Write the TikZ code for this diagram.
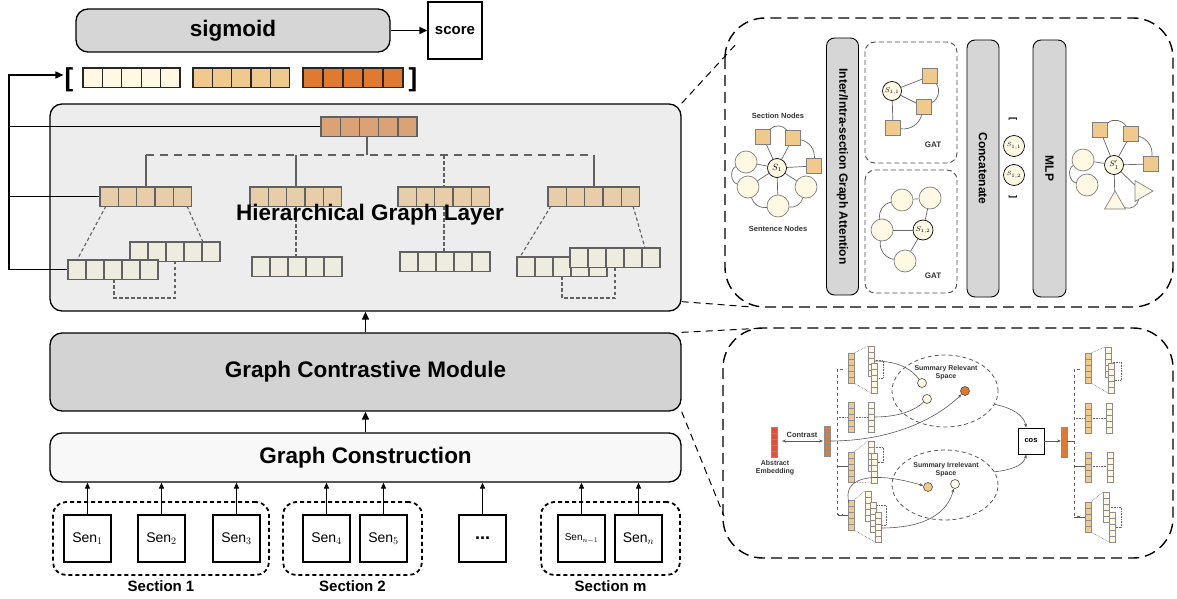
\documentclass[tikz,border=0pt]{standalone}
\usepackage{fontspec}
\setmainfont{Liberation Sans}
\usetikzlibrary{arrows.meta,calc,positioning,shapes.geometric}

\definecolor{creamc}{HTML}{FFF8E3}
\definecolor{tanc}{HTML}{F0C98D}
\definecolor{orangec}{HTML}{E07A30}
\definecolor{redc}{HTML}{DE5038}
\definecolor{topc}{HTML}{DBA275}
\definecolor{midc}{HTML}{E8CDA9}
\definecolor{lowc}{HTML}{EEEBDF}
\definecolor{boxgray}{HTML}{D6D6D6}
\definecolor{hglgray}{HTML}{EDEDED}
\definecolor{gcmgray}{HTML}{D3D3D3}
\definecolor{gcwhite}{HTML}{F8F8F8}

% a row of five cells, and a column of five cells
\def\hrow[#1](#2,#3)#4{\foreach \k in {0,...,4} \draw[#1] ({#2+\k*#4},#3) rectangle ++(#4,19.5);}
\def\vrow[#1](#2,#3){\foreach \k in {0,...,4} \draw[#1] (#2,{#3+\k*6}) rectangle ++(6,6);}

\begin{document}
\begin{tikzpicture}[x=1pt,y=-1pt,
  pill/.style={draw, rounded corners=12pt, line width=1.3pt, font=\fontsize{22.5}{24}\selectfont\bfseries},
  arr/.style={-{Triangle[length=8pt,width=7pt]}, line width=1.4pt},
  arrs/.style={-{Triangle[length=6pt,width=5pt]}, line width=1.1pt},
  cellt/.style={draw=black!85, line width=1.3pt},
  cellh/.style={draw=black!62, line width=1.4pt},
  hline/.style={draw=black!62, line width=1.4pt},
  hdash/.style={hline, dash pattern=on 8pt off 6pt},
  hdot/.style={hline, line width=1.1pt, dash pattern=on 3.5pt off 2.5pt},
  senbox/.style={draw, line width=1.4pt, minimum width=47pt, minimum height=47pt, inner sep=0pt, font=\fontsize{14}{16}\selectfont},
  secbox/.style={draw, line width=1.8pt, dash pattern=on 4pt off 3pt, rounded corners=13pt, minimum height=73pt},
  seclabel/.style={font=\fontsize{15}{16}\selectfont\bfseries},
  panlink/.style={line width=1pt, dash pattern=on 7pt off 5pt},
  panel/.style={line width=1.4pt, dash pattern=on 11pt off 6pt, rounded corners=40pt},
  vbar/.style={draw, fill=boxgray, rounded corners=8pt, line width=0.9pt, minimum width=257pt, minimum height=32pt, inner sep=0pt, font=\fontsize{12}{12}\selectfont\bfseries},
  gatbox/.style={draw=black!70, line width=0.9pt, dash pattern=on 5pt off 3pt, rounded corners=10pt},
  sent/.style={circle, draw=black!50, fill=creamc, line width=0.7pt, minimum size=22pt, inner sep=0pt},
  sect/.style={draw=black!50, fill=tanc, line width=0.7pt, minimum size=15pt, inner sep=0pt},
  snode/.style={circle, draw=black, fill=creamc, line width=0.7pt, minimum size=19pt, inner sep=0pt, font=\fontsize{8}{8}\selectfont},
  tri/.style={regular polygon, regular polygon sides=3, draw=black!50, fill=creamc, line width=0.7pt, minimum size=24pt, inner sep=0pt},
  gline/.style={draw=black!60, line width=0.7pt},
  tinytxt/.style={font=\fontsize{7}{8}\selectfont\bfseries, text=black!80, align=center},
  vcell/.style={draw=black!45, line width=0.4pt},
  dotln/.style={draw=black!60, line width=0.6pt, densely dotted},
  crv/.style={draw=black!65, line width=0.6pt},
  atip/.style={-{Stealth[length=4pt,width=3pt]}},
  dotnode/.style={circle, draw=black!70, line width=0.6pt, minimum size=9pt, inner sep=0pt},
  ell/.style={ellipse, draw=black!65, line width=0.8pt, dash pattern=on 4pt off 3pt, inner sep=0pt}
]
\useasboundingbox (0,0) rectangle (1177,599);

%%%%% OUTPUT %%%%%
\node[pill, fill=boxgray, minimum width=314pt, minimum height=43pt] (sigmoid) at (233,30.5) {sigmoid};
\node[draw, line width=1.3pt, minimum width=54pt, minimum height=57pt, font=\fontsize{15}{16}\selectfont\bfseries] (score) at (455,30.5) {score};
\draw[arr] (sigmoid) -- (score);

\node[font=\fontsize{26}{26}\selectfont\bfseries, inner sep=1pt] (lbr) at (69,80) {[};
\node[font=\fontsize{26}{26}\selectfont\bfseries, inner sep=1pt] (rbr) at (413,80) {]};
\hrow[cellt, fill=creamc](83,68){19.4}
\hrow[cellt, fill=tanc](193,68){19.3}
\hrow[cellt, fill=orangec](303,68){20}

%%%%% HIERARCHICAL GRAPH LAYER %%%%%
\node[pill, fill=hglgray, minimum width=631pt, minimum height=207pt] (hgl) at (365.5,207.5) {};

\coordinate (bus) at (9,0);
\coordinate (vtop) at (321,126.75);
\coordinate (vmid) at (100,196.75);
\coordinate (vlow) at (68,269.75);
\draw[arr] (vtop) -- (vtop -| bus) |- ($(lbr.west)+(0,-5)$);
\draw[line width=1.4pt] (vmid) -- (vmid -| bus);
\draw[line width=1.4pt] (vlow) -- (vlow -| bus) -- (vtop -| bus);

% tree
\draw[hline] (367,136) -- (367,155);
\draw[hdash] (146,155) -- (594,155);
\draw[hline] (146,155) -- (146,187);
\draw[hline] (296,155) -- (296,187);
\draw[hline] (594,155) -- (594,187);
\draw[hdot] (444,155) -- (444,187);
\draw[hdot] (444,206) -- (444,252);
\draw[hdot] (296,206) -- (296,257);
\draw[hdot] (106,206) -- (77,260);
\draw[hdot] (187,206) -- (203,242);
\draw[hdot] (551,206) -- (520,257);
\draw[hdot] (633,206) -- (645,248);
\draw[hdot] (114,279) |- (175,298) -- (175,261);
\draw[hdot] (562,276) |- (615,298) -- (615,267);

\hrow[cellh, fill=topc](321,117){19.2}
\hrow[cellh, fill=midc](100,187){18.3}
\hrow[cellh, fill=midc](250,187){18.3}
\hrow[cellh, fill=midc](398,187){18.3}
\hrow[cellh, fill=midc](548,187){18.3}
\hrow[cellh, fill=lowc](130,242){18}
\hrow[cellh, fill=lowc](68,260){18}
\hrow[cellh, fill=lowc](252,257){18}
\hrow[cellh, fill=lowc](400,252){18}
\hrow[cellh, fill=lowc](517,257){18}
\hrow[cellh, fill=lowc](570,248){18}

\node[font=\fontsize{22.5}{24}\selectfont\bfseries] (hgltext) at (370,215) {Hierarchical Graph Layer};

%%%%% MODULES %%%%%
\node[pill, fill=gcmgray, minimum width=631pt, minimum height=78pt] (gcm) at (365.5,372) {Graph Contrastive Module};
\node[pill, fill=gcwhite, minimum width=631pt, minimum height=49pt] (gc) at (365.5,457.5) {Graph Construction};
\draw[arr] (gc) -- (gcm);
\draw[arr] (gcm) -- (hgl);

%%%%% SENTENCES %%%%%
\node[secbox, minimum width=216pt] (sec1) at (161,538.5) {};
\node[secbox, minimum width=139pt] (sec2) at (352.5,538.5) {};
\node[secbox, minimum width=139pt] (secm) at (610.5,538.5) {};
\node[seclabel, below=1pt of sec1] (lab1) {Section 1};
\node[seclabel, below=1pt of sec2] (lab2) {Section 2};
\node[seclabel, below=1pt of secm] (labm) {Section m};

\node[senbox] (s1) at (87.5,538.5) {Sen$_1$};
\node[senbox] (s2) at (161.5,538.5) {Sen$_2$};
\node[senbox] (s3) at (236.5,538.5) {Sen$_3$};
\node[senbox] (s4) at (326.5,538.5) {Sen$_4$};
\node[senbox] (s5) at (383.5,538.5) {Sen$_5$};
\node[senbox, font=\fontsize{18}{18}\selectfont\bfseries] (sdots) at (482.5,538.5) {...};
\node[senbox, font=\fontsize{10}{10}\selectfont] (sn1) at (581.5,538.5) {Sen$_{n-1}$};
\node[senbox] (sn) at (638.5,538.5) {Sen$_n$};
\foreach \s in {s1,s2,s3,s4,s5,sdots,sn1,sn} \draw[arrs] (\s) -- (\s |- gc.south);

%%%%% LINKS TO PANELS %%%%%
\coordinate (pa) at (738,42);
\coordinate (pb) at (752,307);
\coordinate (pc) at (765,328);
\coordinate (pd) at (724,516);
\draw[panlink] (hgl.north east) -- (pa);
\draw[panlink] ($(hgl.south east)+(0,-10)$) -- (pb);
\draw[panlink] (gcm.north east) -- (pc);
\draw[panlink] (gcm.south east) -- (pd);

%%%%% GRAPH LAYER PANEL %%%%%
\draw[panel] (725,18) rectangle (1173,307);

\node[sent] (c1) at (746,162) {};
\node[sent] (c2) at (748,187) {};
\node[sent] (c3) at (778,206) {};
\node[sent] (c4) at (806,187) {};
\node[sect] (q1) at (763,137) {};
\node[sect] (q2) at (793,138) {};
\node[sect] (q3) at (814,166) {};
\node[snode, font=\fontsize{9}{9}\selectfont] (S1) at (777,168) {$S_1$};
\foreach \t in {c1,c2,c3,c4,q1,q2,q3} \draw[gline] (S1) -- (\t);
\draw[gline] (q1) to[bend left=50] (q2);
\draw[gline] (q2) to[bend left=40] (q3);
\draw[gline] (c1) to[bend right=70] (c2);
\draw[gline] (c2) to[bend right=40] (c3);
\draw[gline] (c3) to[bend right=40] (c4);
\node[tinytxt, font=\fontsize{7.5}{8}\selectfont\bfseries] (secnodes) at (778,116) {Section Nodes};
\node[tinytxt, font=\fontsize{7.5}{8}\selectfont\bfseries] (sennodes) at (778,229) {Sentence Nodes};

\node[vbar, rotate=-90] (inter) at (842.5,166.5) {Inter/Intra-section Graph Attention};

\draw[gatbox] (865,42) rectangle (957,163);
\draw[gatbox] (865,170) rectangle (957,293);

\node[snode, font=\fontsize{7}{7}\selectfont] (S11) at (892,91) {$S_{1,1}$};
\node[sect] (ga) at (930,76) {};
\node[sect] (gb) at (924,107) {};
\node[sect] (gc1) at (893,128) {};
\foreach \t in {ga,gb,gc1} \draw[gline] (S11) -- (\t);
\draw[gline] (ga) to[bend left=50] (gb);
\draw[gline] (gb) to[bend left=40] (gc1);
\node[tinytxt, font=\fontsize{8}{8}\selectfont\bfseries] (gat1) at (933,145) {GAT};

\node[sent] (ha) at (902,200) {};
\node[sent] (hb) at (930,198) {};
\node[sent] (hc) at (882,230) {};
\node[sent] (hd) at (905,261) {};
\node[snode, font=\fontsize{7}{7}\selectfont, minimum size=20pt] (S12) at (923,230) {$S_{1,2}$};
\draw[gline] (ha) -- (hb);
\foreach \t in {hb,hc,hd} \draw[gline] (S12) -- (\t);
\draw[gline] (ha) to[bend right=45] (hc);
\draw[gline] (hc) to[bend right=45] (hd);
\node[tinytxt, font=\fontsize{8}{8}\selectfont\bfseries] (gat2) at (933,276) {GAT};

\node[vbar, rotate=-90] (concat) at (983,168.5) {Concatenate};
\node[vbar, rotate=-90, minimum height=33pt] (mlp) at (1049.5,168.5) {MLP};

\node[font=\fontsize{9}{9}\selectfont\bfseries, rotate=-90] (cbl) at (1013,119) {[};
\node[snode, font=\fontsize{6.5}{7}\selectfont, minimum size=21pt] (cs1) at (1014,146) {$S_{1,1}$};
\node[snode, font=\fontsize{6.5}{7}\selectfont, minimum size=21pt] (cs2) at (1014,175) {$S_{1,2}$};
\node[font=\fontsize{9}{9}\selectfont\bfseries, rotate=-90] (cbr) at (1013,197) {]};

\node[sent] (rc1) at (1083,160) {};
\node[sent] (rc2) at (1087,185) {};
\node[sect] (rq1) at (1100,130) {};
\node[sect] (rq2) at (1131,134) {};
\node[sect] (rq3) at (1151,164) {};
\node[tri] (rt1) at (1115,203) {};
\node[tri, rotate=-90] (rt2) at (1141,191) {};
\node[snode, font=\fontsize{8}{8}\selectfont] (S1p) at (1114,165) {$S'_1$};
\foreach \t in {rc1,rq1,rq2,rq3,rt1,rt2} \draw[gline] (S1p) -- (\t);
\draw[gline] (rq1) to[bend left=50] (rq2);
\draw[gline] (rq2) to[bend left=40] (rq3);
\draw[gline] (rc1) to[bend right=70] (rc2);
\draw[gline] (rt1) to[bend right=50] (rt2);

%%%%% CONTRASTIVE PANEL %%%%%
\draw[panel] (723,328) rectangle (1173,558);

\node[ell, minimum width=106pt, minimum height=72pt] (relsp) at (945,391) {};
\node[ell, minimum width=106pt, minimum height=70pt] (irrsp) at (945,485) {};
\node[tinytxt] (rellab) at (946,373) {Summary Relevant\\Space};
\node[tinytxt] (irrlab) at (946,470) {Summary Irrelevant\\Space};

\vrow[vcell, fill=redc](771,427)
\node[tinytxt] (abslab) at (775,468) {Abstract\\Embedding};
\node[tinytxt, font=\fontsize{7.5}{8}\selectfont\bfseries] (conlab) at (802,435) {Contrast};
\draw[crv, {Stealth[length=4pt,width=3pt]}-{Stealth[length=4pt,width=3pt]}] (782,441) -- (823,441);
\vrow[vcell, fill=orangec](824,426)

% left groups
\draw[dotln, dashed] (843,369) -- (837,369) -- (837,514) -- (843,514);
\draw[dotln] (854,353) -- (868,346);
\draw[dotln] (854,383) -- (871,393);
\draw[dotln] (874,360) -| (883,378) -- (877,378);
\vrow[vcell, fill=tanc](848,353)
\vrow[vcell, fill=creamc](868,346)
\vrow[vcell, fill=creamc](871,363)

\draw[dotln] (837,417) -- (848,417);
\draw[dotln] (854,417) -- (868,417);
\vrow[vcell, fill=tanc](848,402)
\vrow[vcell, fill=creamc](868,402)

\draw[crv] (838,466) -- (848,466);
\draw[dotln] (854,452) -- (868,441);
\draw[dotln] (854,482) -- (871,483);
\draw[dotln] (874,447) -| (883,462) -- (877,462);
\vrow[vcell, fill=tanc](848,452)
\vrow[vcell, fill=creamc](868,441)
\vrow[vcell, fill=creamc](871,453)

\draw[crv] (838,515) -- (848,515);
\draw[dotln] (854,500) -- (865,491);
\draw[dotln] (854,530) -- (875,542);
\draw[dotln] (871,505) -| (886,525) -- (881,525);
\vrow[vcell, fill=tanc](848,500)
\vrow[vcell, fill=creamc](865,491)
\vrow[vcell, fill=creamc](870,502)
\vrow[vcell, fill=creamc](875,512)

% points in the two spaces
\node[dotnode, fill=creamc] (r1) at (922,383) {};
\node[dotnode, fill=creamc] (r2) at (927,399) {};
\node[dotnode, fill=orangec] (r3) at (965,391) {};
\node[dotnode, fill=tanc] (i1) at (928,487) {};
\node[dotnode, fill=creamc] (i2) at (955,484) {};
\draw[crv] (874,361) .. controls (900,361) and (912,370) .. (r1);
\draw[crv] (874,417) .. controls (900,417) and (915,410) .. (r2);
\draw[crv, atip] (830,441) .. controls (890,441) and (935,420) .. (r3);
\draw[crv, atip] (849,503) .. controls (842,478) and (870,470) .. (i1);
\draw[crv, atip] (881,528) .. controls (930,528) and (948,510) .. (i2);

\node[draw, line width=0.8pt, minimum size=26pt, inner sep=0pt, font=\fontsize{7.5}{8}\selectfont\bfseries] (cos) at (1031,441) {cos};
\draw[crv, atip] (relsp.-15) .. controls (1012,408) and (1024,415) .. (cos.110);
\draw[crv, atip] (irrsp.15) .. controls (1012,470) and (1024,465) .. (cos.250);
\draw[crv, atip] (cos) -- (1061,441);
\vrow[vcell, fill=orangec](1061,427)
\draw[crv] (1067,441) -- (1074,441);

% right groups
\draw[dotln, dashed] (1080,369) -- (1074,369) -- (1074,516) -- (1080,516);
\draw[dotln] (1091,353) -- (1105,347);
\draw[dotln] (1091,383) -- (1108,393);
\draw[dotln] (1111,362) -| (1121,380) -- (1114,380);
\vrow[vcell, fill=tanc](1085,353)
\vrow[vcell, fill=creamc](1105,347)
\vrow[vcell, fill=creamc](1108,363)

\draw[dotln] (1074,418) -- (1085,418);
\draw[dotln] (1091,418) -- (1106,418);
\vrow[vcell, fill=tanc](1085,403)
\vrow[vcell, fill=creamc](1106,403)

\draw[crv] (1074,466) -- (1085,466);
\draw[dotln] (1091,466) -- (1107,466);
\vrow[vcell, fill=tanc](1085,452)
\vrow[vcell, fill=creamc](1107,452)

\draw[crv] (1074,517) -- (1085,517);
\draw[dotln] (1091,502) -- (1103,492);
\draw[dotln] (1091,532) -- (1109,542);
\draw[dotln] (1109,507) -| (1121,527) -- (1115,527);
\vrow[vcell, fill=tanc](1085,502)
\vrow[vcell, fill=creamc](1103,492)
\vrow[vcell, fill=creamc](1109,512)

\end{tikzpicture}
\end{document}
